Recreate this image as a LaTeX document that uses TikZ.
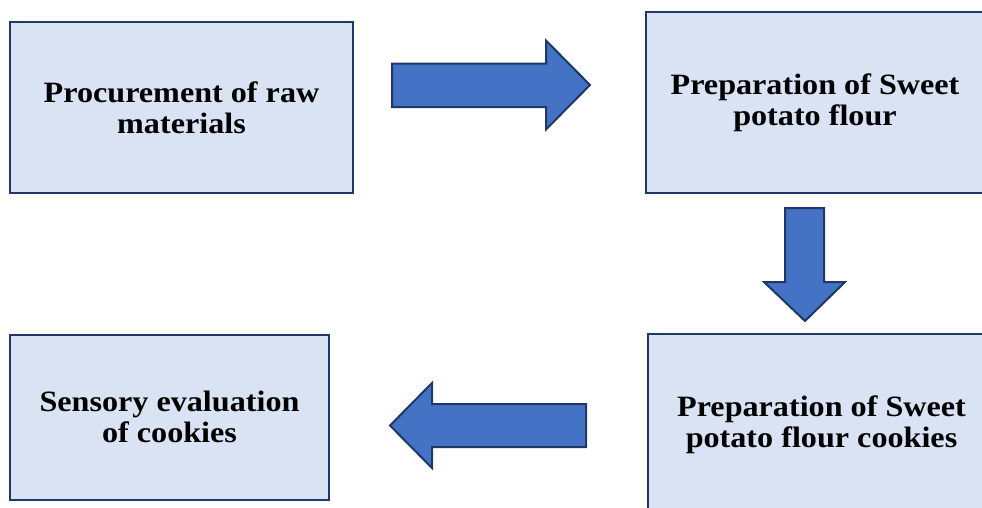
\documentclass[tikz,border=0pt]{standalone}
\usepackage{fontspec}
\setmainfont{Liberation Serif}
\newfontfamily\boxfont[FakeStretch=1.09]{Liberation Serif}
\definecolor{boxfill}{HTML}{DAE3F3}
\definecolor{boxline}{HTML}{1F3864}
\definecolor{arrowfill}{HTML}{4472C4}
\tikzset{
  stepbox/.style={draw=boxline, line width=2pt, fill=boxfill, align=center, inner sep=0pt,
    font=\boxfont\bfseries\fontsize{29.5}{31}\selectfont},
  blockarrow/.style={draw=boxline, line width=2pt, fill=arrowfill, line join=miter}
}
\begin{document}
\begin{tikzpicture}[x=1pt,y=-1pt]
\useasboundingbox (0,0) rectangle (982,507);
\clip (0,0) rectangle (982,507);
\node[stepbox, minimum width=343, minimum height=171] (proc) at (181.5,107.5) {Procurement of raw\\materials};
\node[stepbox, minimum width=338, minimum height=181] (flour) at (815,102.5) {Preparation of Sweet\\potato flour};
\node[stepbox, minimum width=347, minimum height=182] (cook) at (821.5,425) {Preparation of Sweet\\potato flour cookies};
\node[stepbox, minimum width=319, minimum height=165] (sens) at (169.5,417) {Sensory evaluation\\of cookies};
% right arrow
\draw[blockarrow] (392,63.5) -- (546,63.5) -- (546,40.5) -- (590,85) -- (546,129.5) -- (546,107) -- (392,107) -- cycle;
% down arrow
\draw[blockarrow] (785,208) -- (824,208) -- (824,282) -- (845,282) -- (805,321) -- (764,282) -- (785,282) -- cycle;
% left arrow
\draw[blockarrow] (586,404) -- (432,404) -- (432,383) -- (390,425.5) -- (432,468) -- (432,447) -- (586,447) -- cycle;
\end{tikzpicture}
\end{document}
